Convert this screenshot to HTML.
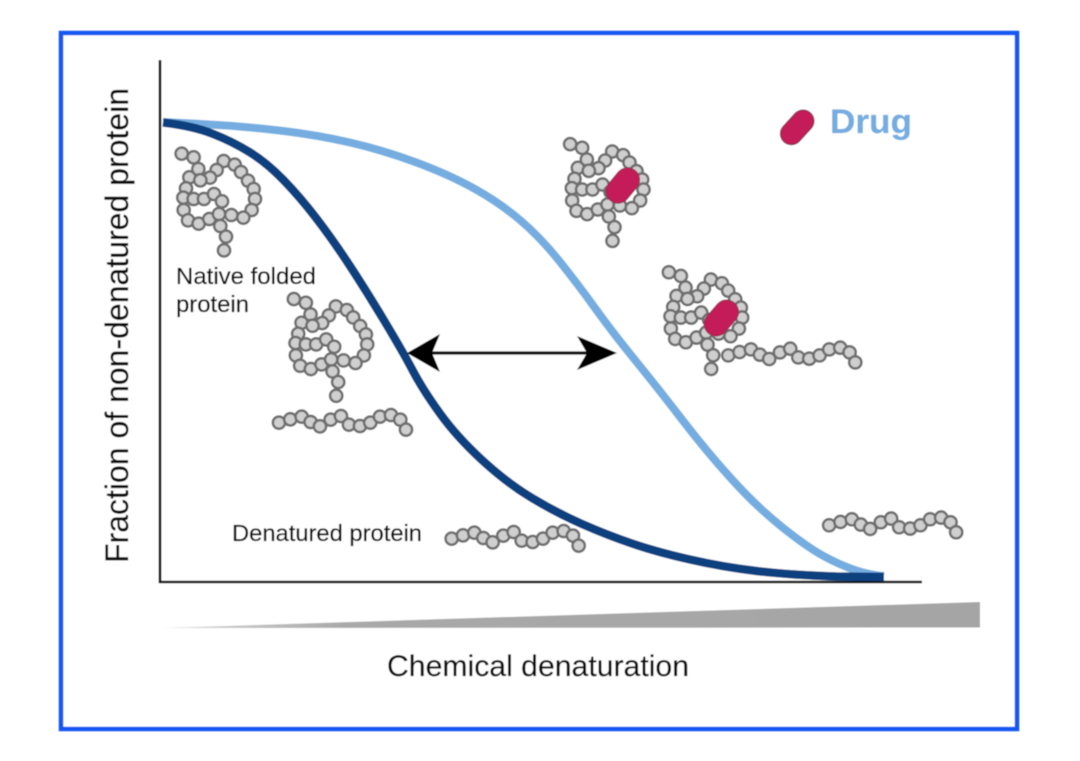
<!DOCTYPE html>
<html>
<head>
<meta charset="utf-8">
<style>
html,body{margin:0;padding:0;background:#fff;width:1080px;height:761px;overflow:hidden}
svg{display:block}
text{font-family:"Liberation Sans",sans-serif;fill:#111;stroke:#111;stroke-width:0.25}
</style>
</head>
<body>
<svg width="1080" height="761" viewBox="0 0 1080 761" xmlns="http://www.w3.org/2000/svg">
<defs>
<filter id="soft" x="-5%" y="-5%" width="110%" height="110%"><feGaussianBlur stdDeviation="0.6"/></filter>
<linearGradient id="wedge" x1="0" x2="1" y1="0" y2="0">
<stop offset="0" stop-color="#dcdcdc"/><stop offset="0.22" stop-color="#a9a9a9"/><stop offset="1" stop-color="#a5a5a5"/>
</linearGradient>
<g id="fold" transform="translate(160,130) scale(0.33333)" fill="#cfcfcf" stroke="#6e6e6e" stroke-width="7.5">
<circle cx="65" cy="71" r="18.5"/><circle cx="101" cy="82" r="18.5"/><circle cx="115" cy="117" r="18.5"/><circle cx="191" cy="93" r="18.5"/><circle cx="170" cy="120" r="18.5"/><circle cx="150" cy="143" r="18.5"/><circle cx="88" cy="142" r="18.5"/><circle cx="121" cy="151" r="18.5"/><circle cx="224" cy="104" r="18.5"/><circle cx="243" cy="126" r="18.5"/><circle cx="264" cy="152" r="18.5"/><circle cx="281" cy="177" r="18.5"/><circle cx="285" cy="207" r="18.5"/><circle cx="275" cy="240" r="18.5"/><circle cx="250" cy="263" r="18.5"/><circle cx="214" cy="255" r="18.5"/><circle cx="78" cy="175" r="18.5"/><circle cx="70" cy="203" r="18.5"/><circle cx="101" cy="207" r="18.5"/><circle cx="132" cy="207" r="18.5"/><circle cx="162" cy="192" r="18.5"/><circle cx="186" cy="214" r="18.5"/><circle cx="71" cy="240" r="18.5"/><circle cx="84" cy="271" r="18.5"/><circle cx="116" cy="281" r="18.5"/><circle cx="148" cy="267" r="18.5"/><circle cx="177" cy="252" r="18.5"/><circle cx="181" cy="288" r="18.5"/><circle cx="198" cy="320" r="18.5"/><circle cx="192" cy="361" r="18.5"/>
</g>
<g id="chain" transform="translate(440,505) scale(0.33333)" fill="#cfcfcf" stroke="#6e6e6e" stroke-width="7.5">
<circle cx="35" cy="101" r="18.5"/><circle cx="69" cy="91" r="18.5"/><circle cx="103" cy="83" r="18.5"/><circle cx="130" cy="99" r="18.5"/><circle cx="158" cy="112" r="18.5"/><circle cx="190" cy="92" r="18.5"/><circle cx="221" cy="81" r="18.5"/><circle cx="245" cy="107" r="18.5"/><circle cx="278" cy="111" r="18.5"/><circle cx="309" cy="101" r="18.5"/><circle cx="338" cy="83" r="18.5"/><circle cx="371" cy="78" r="18.5"/><circle cx="399" cy="92" r="18.5"/><circle cx="416" cy="122" r="18.5"/>
</g>
</defs>

<g filter="url(#soft)">
<rect x="61" y="33" width="956" height="696" fill="#fff" stroke="#1257f2" stroke-width="4.5"/>

<polygon points="163,628 980,602 980,627.5" fill="url(#wedge)"/>

<line x1="160" y1="60" x2="160" y2="583" stroke="#111" stroke-width="2.6"/>
<line x1="159" y1="582" x2="922" y2="582" stroke="#111" stroke-width="2.6"/>

<path d="M163,122 L193,123.5 L221.5,125.3 Q250,127 283.5,131 Q317,135 350,142.5 Q383,150 416.5,162.5 Q450,175 475,189 Q500,203 520,220 Q540,237 558.5,260 Q577,283 595,308 Q613,333 635,360 Q657,387 682,419.5 Q707,452 732,479.5 Q757,507 782,527 Q807,547 823.5,556 Q840,565 855,570 Q870,575 884,576" fill="none" stroke="#74ade0" stroke-width="8"/>
<path d="M163,122.5 Q193,126 213,133.9 Q233,141.7 250,152.4 Q267,163 283.5,180 Q300,197 316.5,218.5 Q333,240 350,266 Q367,292 385,322 Q403,352 413,371 Q423,390 440,413.5 Q457,437 482,460 Q507,483 532,498 Q557,513 582,524 Q607,535 632,543.5 Q657,552 690,559.5 Q723,567 756.5,571 Q790,575 836,576.5 L884,577" fill="none" stroke="#0c3f7e" stroke-width="8.5"/>

<line x1="430" y1="353" x2="590" y2="353" stroke="#0a0a0a" stroke-width="3.2"/>
<polygon points="407,353 440,334 432,353 440,372" fill="#000"/>
<polygon points="617,353 577,336 587,353 577,370" fill="#000"/>

<use href="#fold"/>
<use href="#fold" transform="translate(112.2,145.4)"/>
<use href="#fold" transform="translate(388.5,-9.5)"/>
<use href="#fold" transform="translate(487.2,118.6)"/>

<use href="#chain"/>
<use href="#chain" transform="translate(-172.7,-116)"/>
<use href="#chain" transform="translate(377.5,-13.4)"/>
<use href="#chain" transform="translate(276.6,-183.3)"/>

<g stroke-linecap="round" fill="none">
<line x1="627.5" y1="179.8" x2="618" y2="191.2" stroke="#7a3148" stroke-width="25"/>
<line x1="627.5" y1="179.8" x2="618" y2="191.2" stroke="#c41e58" stroke-width="23.5"/>
<line x1="726.5" y1="312" x2="716.2" y2="324" stroke="#7a3148" stroke-width="25"/>
<line x1="726.5" y1="312" x2="716.2" y2="324" stroke="#c41e58" stroke-width="23.5"/>
<line x1="803" y1="121" x2="791.4" y2="133.7" stroke="#5e3040" stroke-width="23"/>
<line x1="803" y1="121" x2="791.4" y2="133.7" stroke="#c41e58" stroke-width="21.5"/>
</g>

<text x="830" y="133" font-size="34" font-weight="700" style="fill:#74ade0;stroke:#74ade0" textLength="82" lengthAdjust="spacingAndGlyphs">Drug</text>
<text x="176" y="284" font-size="23.5" textLength="140" lengthAdjust="spacingAndGlyphs">Native folded</text>
<text x="176" y="312" font-size="23.5" textLength="73" lengthAdjust="spacingAndGlyphs">protein</text>
<text x="232" y="541" font-size="23.5" textLength="190" lengthAdjust="spacingAndGlyphs">Denatured protein</text>
<text x="387" y="676" font-size="30" textLength="302" lengthAdjust="spacingAndGlyphs">Chemical denaturation</text>
<text transform="translate(128,563) rotate(-90)" x="0" y="0" font-size="32" textLength="475" lengthAdjust="spacingAndGlyphs">Fraction of non-denatured protein</text>
</g>
</svg>
</body>
</html>
